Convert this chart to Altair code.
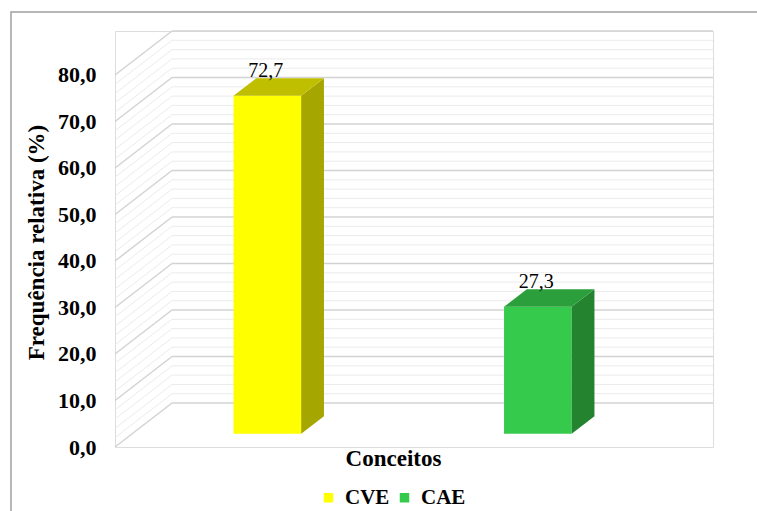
import altair as alt
import pandas as pd

# ---- data -------------------------------------------------------------
categories = ["CVE", "CAE"]
values = [72.7, 27.3]
value_labels = ["72,7", "27,3"]
front_colors = ["#FFFF00", "#35CA4B"]
top_colors = ["#BFBF00", "#2A9F3B"]
side_colors = ["#A6A600", "#23832F"]
major_ticks = [0, 10, 20, 30, 40, 50, 60, 70, 80]
minor_ticks = [v for v in range(0, 81, 2) if v % 10 != 0]

# ---- pseudo-3D geometry (in scale units) -------------------------------
DEPTH_X = 0.2107      # horizontal shift of the back wall, in category units
DEPTH_Y = 9.46        # vertical shift of the back wall, in value units
BAR_HALF = 0.125      # half bar width (gap width 300 %)
BAR_FRONT, BAR_BACK = 0.3, 0.7   # bar depth span, fraction of the floor depth
N = len(categories)
X_MAX = N + DEPTH_X
Y_MAX = 80 + DEPTH_Y

FONT = "Liberation Serif"

x_scale = alt.Scale(domain=[0, X_MAX], nice=False, zero=False)
y_scale = alt.Scale(domain=[0, Y_MAX], nice=False, zero=False)

x_axis = alt.Axis(title="Conceitos", labels=False, ticks=False, domain=False,
                  grid=False, titleFont=FONT, titleFontSize=23,
                  titleFontWeight="bold", titleColor="black",
                  titleX=278, titleY=11, titleBaseline="middle")
y_axis = alt.Axis(title="Frequência relativa (%)", values=major_ticks,
                  labelExpr="replace(format(datum.value, '.1f'), '.', ',')",
                  ticks=False, domain=False, grid=False,
                  labelFont=FONT, labelFontSize=22, labelFontWeight="bold",
                  labelColor="black", labelPadding=19,
                  titleFont=FONT, titleFontSize=23, titleFontWeight="bold",
                  titleColor="black", titleX=-79, titleY=211,
                  titleBaseline="middle", titleAngle=270)


def grid_frame(ticks):
    return pd.DataFrame({
        "v": ticks,
        "vb": [t + DEPTH_Y for t in ticks],
        "x0": 0.0,
        "x1": DEPTH_X,
        "xb0": DEPTH_X,
        "xb1": X_MAX,
    })


def grid_layers(ticks, color, width):
    df = grid_frame(ticks)
    side = alt.Chart(df).mark_rule(color=color, strokeWidth=width).encode(
        x=alt.X("x0:Q", scale=x_scale, axis=x_axis),
        x2="x1:Q",
        y=alt.Y("v:Q", scale=y_scale, axis=y_axis),
        y2="vb:Q",
    )
    back = alt.Chart(df).mark_rule(color=color, strokeWidth=width).encode(
        x=alt.X("xb0:Q", scale=x_scale, axis=x_axis),
        x2="xb1:Q",
        y=alt.Y("vb:Q", scale=y_scale, axis=y_axis),
    )
    return [side, back]


# ---- bar faces -----------------------------------------------------------
front_rows, side_rows, top_rows, label_rows = [], [], [], []
for i, (cat, val) in enumerate(zip(categories, values)):
    c = i + 0.5
    fx, fy = BAR_FRONT * DEPTH_X, BAR_FRONT * DEPTH_Y
    bx, by = BAR_BACK * DEPTH_X, BAR_BACK * DEPTH_Y
    front_rows.append({"cat": cat, "x": c - BAR_HALF + fx, "x2": c + BAR_HALF + fx,
                       "y": fy, "y2": val + fy})
    side_rows += [
        {"cat": cat, "fill": side_colors[i], "x": c + BAR_HALF + fx, "y": val + fy, "y2": fy},
        {"cat": cat, "fill": side_colors[i], "x": c + BAR_HALF + bx, "y": val + by, "y2": by},
    ]
    top_rows += [
        {"cat": cat, "fill": top_colors[i], "y": val + fy, "x": c - BAR_HALF + fx, "x2": c + BAR_HALF + fx},
        {"cat": cat, "fill": top_colors[i], "y": val + by, "x": c - BAR_HALF + bx, "x2": c + BAR_HALF + bx},
    ]
    label_rows.append({"cat": cat, "label": value_labels[i], "x": c + fx, "y": val + by})

front = alt.Chart(pd.DataFrame(front_rows)).mark_rect().encode(
    x=alt.X("x:Q", scale=x_scale, axis=x_axis),
    x2="x2:Q",
    y=alt.Y("y:Q", scale=y_scale, axis=y_axis),
    y2="y2:Q",
    color=alt.Color("cat:N", scale=alt.Scale(domain=categories, range=front_colors),
                    legend=alt.Legend(orient="none", legendX=203, legendY=456,
                                      direction="horizontal", title=None,
                                      symbolType="square", symbolSize=90,
                                      symbolStrokeWidth=0, padding=0,
                                      labelFont=FONT, labelFontSize=21,
                                      labelFontWeight="bold", labelColor="black",
                                      labelOffset=6, columnPadding=4)),
)

side = alt.Chart(pd.DataFrame(side_rows)).mark_area(orient="vertical").encode(
    x=alt.X("x:Q", scale=x_scale, axis=x_axis),
    y=alt.Y("y:Q", scale=y_scale, axis=y_axis),
    y2="y2:Q",
    detail="cat:N",
    fill=alt.Fill("fill:N", scale=None),
)

top = alt.Chart(pd.DataFrame(top_rows)).mark_area(orient="horizontal").encode(
    y=alt.Y("y:Q", scale=y_scale, axis=y_axis),
    x=alt.X("x:Q", scale=x_scale, axis=x_axis),
    x2="x2:Q",
    detail="cat:N",
    fill=alt.Fill("fill:N", scale=None),
)

labels = alt.Chart(pd.DataFrame(label_rows)).mark_text(
    font=FONT, fontSize=20, color="black", baseline="alphabetic", dy=-1, dx=-1.5
).encode(
    x=alt.X("x:Q", scale=x_scale, axis=x_axis),
    y=alt.Y("y:Q", scale=y_scale, axis=y_axis),
    text="label:N",
)

# chart-area frame
frame = alt.Chart(pd.DataFrame({"k": [0]})).mark_rect(
    fillOpacity=0, stroke="#A0A0A0", strokeWidth=1.5
).encode(
    x=alt.value(-104), x2=alt.value(700), y=alt.value(-19), y2=alt.value(600)
)

layers = [frame]
layers += grid_layers(minor_ticks, "#EBEBEB", 1)
layers += grid_layers(major_ticks, "#D3D3D3", 1.5)
layers += [front, side, top, labels]

chart = alt.layer(*layers).properties(
    width=598, height=416,
    autosize=alt.AutoSizeParams(type="none"),
    padding={"left": 115, "top": 31, "right": 44, "bottom": 64},
).configure_view(stroke=None).configure(background="white")

chart.save("out.html", embed_options={"renderer": "svg", "actions": False})
